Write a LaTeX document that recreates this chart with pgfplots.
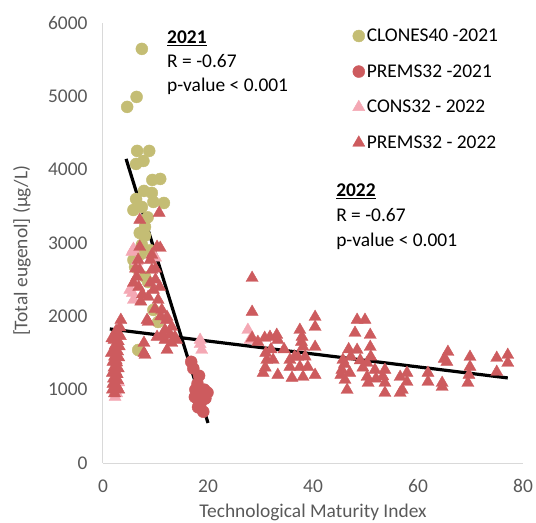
\documentclass[border=0pt]{standalone}
\usepackage{pgfplots}
\pgfplotsset{compat=1.18}
\usepackage{fontspec}
\setmainfont{Carlito}
\definecolor{clones}{RGB}{196,189,116}
\definecolor{prems}{RGB}{205,91,94}
\definecolor{cons}{RGB}{244,168,180}
\definecolor{labgray}{RGB}{89,89,89}
\definecolor{axgray}{RGB}{217,217,217}
\begin{document}
\begin{tikzpicture}
\begin{axis}[
  scale only axis,
  width=420bp, height=440bp,
  xmin=0, xmax=80, ymin=0, ymax=6000,
  xtick={0,20,40,60,80}, ytick={0,1000,...,6000},
  axis x line*=bottom, axis y line*=left,
  axis line style={draw=axgray, line width=1bp, -},
  major tick length=0pt,
  font=\fontsize{19.5}{23.4}\selectfont,
  tick label style={text=labgray, font=\fontsize{19.5}{23.4}\selectfont},
  /pgf/number format/assume math mode=true,
  /pgf/number format/1000 sep={},
  xticklabel style={yshift=-13bp},
  yticklabel style={xshift=-12bp},
  xlabel={Technological Maturity Index},
  ylabel={[Total eugenol] (µg/L)},
  xlabel style={text=labgray, at={(axis description cs:0.5,-0.124)}, anchor=base},
  ylabel style={text=labgray, at={(axis description cs:-0.193,0.482)}, anchor=center},
  clip=false,
  legend cell align=left,
  legend style={draw=none, fill=none, at={(axis description cs:0.587,0.996)}, anchor=north west,
    row sep=17.5bp, font=\fontsize{19.5}{23.4}\selectfont},
  legend image code/.code={\draw[mark repeat=2,mark phase=2,#1] plot coordinates {(0bp,0bp)(5bp,0bp)(10bp,0bp)};},
]
% CLONES40 - 2021
\addplot[only marks, mark=*, mark size=6bp, clones] coordinates {
(7.4,5647)(4.6,4856)(6.4,4992)(6.5,4256)(8.8,4256)(6.3,4078)(7.7,4119)
(9.4,3860)(10.9,3874)(11.6,3546)(7.8,3710)(9.3,3683)(6.3,3600)(5.8,3450)
(7.4,3492)(9.6,3560)(7.0,3137)(8.0,3219)(8.0,3100)(7.4,2974)(5.8,2769)
(6.1,2673)(8.0,2537)(8.6,2469)(9.6,2087)(10.5,1923)(6.7,1541)(9.0,2900)
(8.5,3350)(7.2,2850)
};
\addlegendentry{CLONES40 -2021}
% PREMS32 - 2021
\addplot[only marks, mark=*, mark size=6bp, prems] coordinates {
(16.8,1380)(17.2,1290)(18.3,1190)(17.6,1000)(17.5,900)(18.2,850)(19.9,960)
(19.5,880)(18.1,760)(19.1,700)(18.6,820)(17.9,950)(19.3,1000)(18.0,1080)
};
\addlegendentry{PREMS32 -2021}
% CONS32 - 2022
\addplot[only marks, mark=triangle*, mark size=7bp, cons] coordinates {
(2.3,900)(2.6,950)(5.8,2223)(5.6,2318)(5.8,2455)(5.5,2878)(5.8,2918)
(5.1,2360)(6.5,2750)(18.5,1678)(18.8,1541)(18.5,1620)(27.6,1814)(28.0,1678)
(10.0,2800)(12.0,1950)(3.0,1100)
};
\addlegendentry{CONS32 - 2022}
% PREMS32 - 2022
\addplot[only marks, mark=triangle*, mark size=7bp, prems] coordinates {
(1.8,1000)(1.9,1080)(2.0,1150)(1.8,1230)(2.1,1300)(1.9,1380)(2.2,1450)
(2.0,1520)(2.3,1600)(2.1,1680)(2.4,1750)(2.6,1050)(2.8,1130)(2.7,1210)
(2.9,1290)(2.6,1370)(3.0,1440)(2.8,1520)(3.1,1590)(2.9,1660)(3.3,1730)
(3.4,1950)(3.2,1850)(1.6,1500)(1.7,1700)(2.5,1800)(2.2,950)(3.0,1000)
(2.4,1250)(2.5,1400)
(7.0,3315)(10.7,3410)(7.0,2946)(9.3,2837)(10.9,2932)(10.3,2946)(6.7,2769)
(7.0,2632)(6.4,2537)(5.8,2455)(9.0,2769)(9.3,2632)(9.0,2455)(9.6,2360)
(8.6,2264)(10.5,2223)(11.2,2087)(12.1,1950)(13.1,1855)(11.8,1814)(13.7,1719)
(8.4,1950)(8.6,1923)(7.8,1637)(7.8,1500)(12.2,1991)(12.2,1541)(10.3,1719)
(14.0,1678)(8.0,1473)(11.8,1678)(13.1,1637)(10.0,2500)(10.8,2400)(6.8,2400)
(7.5,2300)(9.9,2100)(11.5,1750)(10.0,2650)(12.8,1750)(11.0,2000)(6.2,2650)
(7.2,2200)
(28.4,2523)(28.4,2060)(28.4,1705)(30.8,1705)(31.8,1719)(33.1,1746)(33.3,1678)
(31.2,1405)(30.5,1228)(32.4,1405)(33.3,1200)(35.6,1310)(36.0,1160)(37.5,1814)
(37.9,1719)(37.1,1446)(37.5,1310)(38.1,1173)(40.4,1991)(40.4,1855)(40.4,1582)
(40.4,1200)(39.0,1310)(38.1,1582)(35.6,1405)(30.9,1300)(32.0,1550)(29.5,1650)
(34.5,1550)(36.5,1450)(38.5,1450)(37.8,1650)(31.0,1500)
(48.4,1951)(49.9,1951)(48.0,1773)(50.9,1746)(48.4,1541)(50.9,1582)(45.7,1405)
(45.5,1269)(46.5,996)(46.1,1132)(47.0,1228)(50.3,1173)(50.5,1091)(51.8,1269)
(53.7,1269)(53.7,1091)(53.7,955)(50.3,1364)(46.0,1350)(47.2,1450)(49.0,1400)
(51.0,1450)(53.3,1180)(46.8,1550)(45.3,1200)(49.5,1300)(52.0,1150)
(56.6,1173)(56.6,955)(57.9,1228)(57.9,1105)(57.0,996)(61.9,1228)(61.9,1105)
(64.6,1037)(65.7,1514)(65.5,1378)(64.6,1091)(69.9,1446)(69.9,1310)(69.5,1091)
(75.0,1432)(75.0,1241)(77.1,1473)(77.1,1364)(69.7,1200)(65.0,1420)
};
\addlegendentry{PREMS32 - 2022}
% regression lines
\addplot[black, line width=3.2bp, forget plot] coordinates {(4.4,4147)(20,546)};
\addplot[black, line width=3.2bp, forget plot] coordinates {(1.3,1828)(77.1,1160)};
% annotations
\node[anchor=base west, inner sep=0pt] at (axis cs:12.2,5715) {\underline{\textbf{2021}}};
\node[anchor=base west, inner sep=0pt] at (axis cs:12.2,5388) {R = -0.67};
\node[anchor=base west, inner sep=0pt] at (axis cs:12.2,5060) {p-value < 0.001};
\node[anchor=base west, inner sep=0pt] at (axis cs:44.4,3628) {\underline{\textbf{2022}}};
\node[anchor=base west, inner sep=0pt] at (axis cs:44.4,3287) {R = -0.67};
\node[anchor=base west, inner sep=0pt] at (axis cs:44.4,2946) {p-value < 0.001};
\end{axis}
\pgfresetboundingbox
\path (-103bp,-60bp) rectangle (433bp,463bp);
\end{tikzpicture}
\end{document}
